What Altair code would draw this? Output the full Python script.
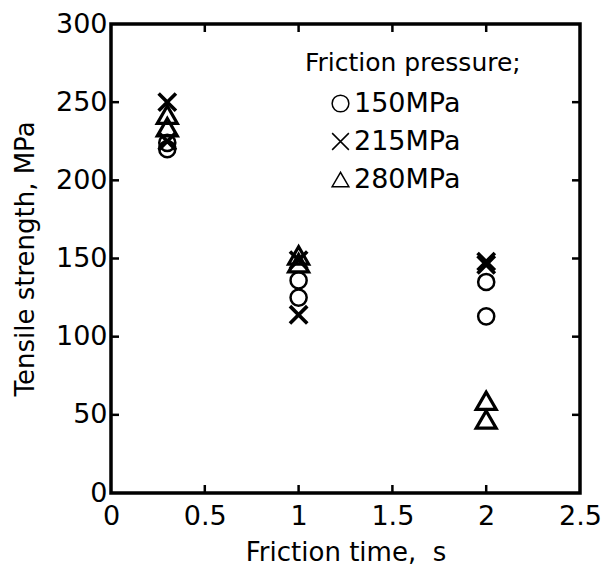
import altair as alt
import pandas as pd

# ---- data ----
time_s = [0.3, 0.3, 1, 1, 2, 2]
p150 = [224, 220, 136, 125, 135, 113]
p215 = [250, 225, 149, 114, 148, 146]
p280 = [242, 234, 152, 147, 59, 47]
series = ["150MPa", "215MPa", "280MPa"]
marker_sizes = [260, 300, 400]
marker_strokes = [2.5, 3.6, 3.2]
x_tick_values = [0, 0.5, 1, 1.5, 2, 2.5]
y_tick_values = [0, 50, 100, 150, 200, 250, 300]
x_inner_ticks = [0.5, 1, 1.5, 2]
y_inner_ticks = [50, 100, 150, 200, 250]

rows = []
for name, vals in zip(series, [p150, p215, p280]):
    for t, v in zip(time_s, vals):
        rows.append({"time": t, "strength": v, "pressure": name})
df = pd.DataFrame(rows)

X_PATH = "M-1,-1L1,1M1,-1L-1,1"
W = H = 469
TL = 8  # inward tick length
FONT = "DejaVu Sans"

xscale = alt.Scale(domain=[0, 2.5], nice=False, zero=False)
yscale = alt.Scale(domain=[0, 300], nice=False, zero=False)
shape_scale = alt.Scale(domain=series, range=["circle", X_PATH, "triangle-up"])

x_enc = alt.X("time:Q", scale=xscale,
              axis=alt.Axis(title="Friction time,\u00a0 s", values=x_tick_values, format="~g",
                            labelPadding=10, titlePadding=10, labelFlush=False))
y_enc = alt.Y("strength:Q", scale=yscale,
              axis=alt.Axis(title="Tensile strength, MPa", values=y_tick_values,
                            labelPadding=4, titlePadding=17, labelFlush=False))
shape_enc = alt.Shape("pressure:N", scale=shape_scale,
                      legend=alt.Legend(title="Friction pressure;", orient="none",
                                        legendX=194, legendY=27))

point_layers = []
for name, sz, sw in zip(series, marker_sizes, marker_strokes):
    point_layers.append(
        alt.Chart(df).transform_filter(alt.datum.pressure == name)
        .mark_point(filled=False, color="black", opacity=1, size=sz, strokeWidth=sw)
        .encode(x=x_enc, y=y_enc, shape=shape_enc)
    )

xt = pd.DataFrame({"v": x_inner_ticks})
yt = pd.DataFrame({"v": y_inner_ticks})
rule = dict(color="black", strokeWidth=2.5)
bottom = alt.Chart(xt).mark_rule(**rule).encode(
    x=alt.X("v:Q", scale=xscale), y=alt.value(H), y2=alt.value(H - TL))
top = alt.Chart(xt).mark_rule(**rule).encode(
    x=alt.X("v:Q", scale=xscale), y=alt.value(0), y2=alt.value(TL))
left = alt.Chart(yt).mark_rule(**rule).encode(
    y=alt.Y("v:Q", scale=yscale), x=alt.value(0), x2=alt.value(TL))
right = alt.Chart(yt).mark_rule(**rule).encode(
    y=alt.Y("v:Q", scale=yscale), x=alt.value(W), x2=alt.value(W - TL))

chart = alt.layer(*point_layers, bottom, top, left, right).properties(
    width=W, height=H,
    autosize=alt.AutoSizeParams(type="none"),
    padding={"left": 111, "top": 24, "right": 26, "bottom": 78},
    background="white",
).configure_view(
    stroke="black", strokeWidth=3.5
).configure_axis(
    domain=False, ticks=False, tickSize=0, grid=False,
    labelFont=FONT, labelFontSize=27, labelColor="black",
    titleFont=FONT, titleFontSize=26, titleFontWeight="normal", titleColor="black",
).configure_legend(
    padding=0, titleFont=FONT, titleFontSize=25, titleFontWeight="normal", titleColor="black",
    titleLimit=400, labelLimit=300,
    labelFont=FONT, labelFontSize=27, labelColor="black",
    symbolSize=280, symbolStrokeWidth=1.5, symbolStrokeColor="black",
    symbolOffset=22, labelOffset=0, rowPadding=10, titlePadding=14,
)

chart.save("out.html", embed_options={"renderer": "svg", "actions": False})
